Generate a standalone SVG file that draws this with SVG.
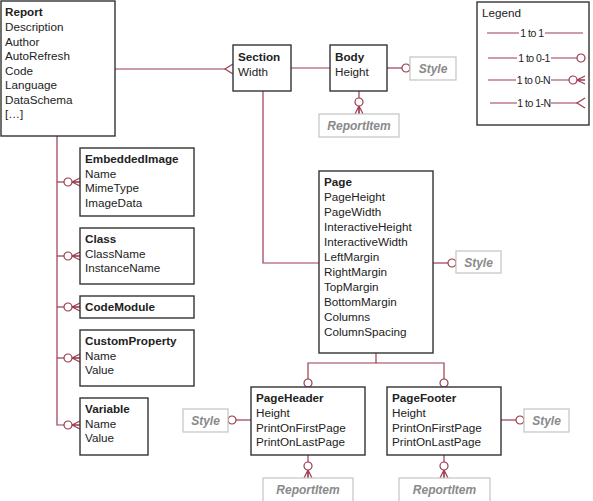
<svg xmlns="http://www.w3.org/2000/svg" width="593" height="501" viewBox="0 0 593 501">
  <style>
    .bg { fill: #ffffff; }
    .box { fill: #ffffff; stroke: #333333; stroke-width: 1.4; }
    .ref { fill: #ffffff; stroke: #c4c4c4; stroke-width: 1.2; }
    text { font-family: "Liberation Sans", Arial, sans-serif; font-size: 11.7px; fill: #222222; }
    .title { font-weight: bold; }
    .reft { font-weight: bold; font-style: italic; fill: #8a8a8a; font-size: 12px; text-anchor: middle; }
    .conn { fill: none; stroke: #9c3b4f; stroke-width: 1.2; }
    .mk { fill: #ffffff; stroke: #9c3b4f; stroke-width: 1.2; }
    .lg { font-size: 10.5px; letter-spacing: -0.5px; text-anchor: middle; }
  </style>
  <defs>
    <!-- zero or one: a small ring touching the box -->
    <marker id="zo" markerUnits="userSpaceOnUse" viewBox="-12 -6 14 12" refX="0" refY="0" markerWidth="14" markerHeight="12" orient="auto" overflow="visible">
      <circle class="mk" cx="-4" cy="0" r="4"/>
    </marker>
    <!-- zero or many: ring plus crow's foot -->
    <marker id="om" markerUnits="userSpaceOnUse" viewBox="-18 -6 20 12" refX="0" refY="0" markerWidth="20" markerHeight="12" orient="auto" overflow="visible">
      <path class="mk" d="M-8,0 L0,-4 M-8,0 L0,0 M-8,0 L0,4"/>
      <circle class="mk" cx="-12" cy="0" r="4"/>
    </marker>
    <!-- one or many: crow's foot only -->
    <marker id="mn" markerUnits="userSpaceOnUse" viewBox="-10 -6 12 12" refX="0" refY="0" markerWidth="12" markerHeight="12" orient="auto" overflow="visible">
      <path class="mk" d="M0,-5 L-8,0 L0,5"/>
    </marker>
  </defs>

  <rect class="bg" x="0" y="0" width="593" height="501"/>

  <g id="connectors">
    <path class="conn" d="M115,69 H233" marker-end="url(#mn)"/>
    <path class="conn" d="M291,68 H330"/>
    <path class="conn" d="M387,68 H410" marker-end="url(#zo)"/>
    <path class="conn" d="M359,91 V114" marker-end="url(#om)"/>
    <path class="conn" d="M263,91 V263 H319"/>
    <path class="conn" d="M433,263 H456" marker-end="url(#zo)"/>
    <path class="conn" d="M376,353 V363"/>
    <path class="conn" d="M376,363 H308 V387" marker-end="url(#zo)"/>
    <path class="conn" d="M376,363 H444 V387" marker-end="url(#zo)"/>
    <path class="conn" d="M251,420 H228" marker-end="url(#zo)"/>
    <path class="conn" d="M308,455 V478" marker-end="url(#om)"/>
    <path class="conn" d="M501,420 H524" marker-end="url(#zo)"/>
    <path class="conn" d="M444,455 V478" marker-end="url(#om)"/>
    <path class="conn" d="M57,136 V425 H80" marker-end="url(#om)"/>
    <path class="conn" d="M57,182 H80" marker-end="url(#om)"/>
    <path class="conn" d="M57,256 H80" marker-end="url(#om)"/>
    <path class="conn" d="M57,307 H80" marker-end="url(#om)"/>
    <path class="conn" d="M57,358 H80" marker-end="url(#om)"/>
  </g>

  <g id="report">
    <rect class="box" x="1" y="1" width="114" height="135"/>
    <text class="title" x="5" y="16">Report</text>
    <text x="5" y="31">Description</text>
    <text x="5" y="46">Author</text>
    <text x="5" y="60">AutoRefresh</text>
    <text x="5" y="75">Code</text>
    <text x="5" y="89">Language</text>
    <text x="5" y="104">DataSchema</text>
    <text x="5" y="118">[…]</text>
  </g>

  <g id="section">
    <rect class="box" x="233" y="45" width="58" height="46"/>
    <text class="title" x="238" y="61">Section</text>
    <text x="238" y="76">Width</text>
  </g>

  <g id="body">
    <rect class="box" x="330" y="45" width="57" height="46"/>
    <text class="title" x="335" y="61">Body</text>
    <text x="335" y="76">Height</text>
  </g>

  <g id="body-style">
    <rect class="ref" x="410" y="57" width="46" height="23"/>
    <text class="reft" x="433" y="73">Style</text>
  </g>

  <g id="body-reportitem">
    <rect class="ref" x="319" y="114" width="80" height="23"/>
    <text class="reft" x="359" y="130">ReportItem</text>
  </g>

  <g id="legend">
    <rect class="box" x="477" y="2" width="112" height="123"/>
    <text x="482" y="17">Legend</text>
    <path class="conn" d="M487,33 H519 M545,33 H583"/>
    <text class="lg" x="532" y="37">1 to 1</text>
    <path class="conn" d="M488,58 H517 M551,58 H585" marker-end="url(#zo)"/>
    <text class="lg" x="534" y="62">1 to 0-1</text>
    <path class="conn" d="M488,80 H516 M551,80 H585" marker-end="url(#om)"/>
    <text class="lg" x="533.5" y="84">1 to 0-N</text>
    <path class="conn" d="M490,103 H517 M551,103 H585" marker-end="url(#mn)"/>
    <text class="lg" x="534" y="107">1 to 1-N</text>
  </g>

  <g id="embedded-image">
    <rect class="box" x="80" y="148" width="114" height="68"/>
    <text class="title" x="85" y="163">EmbeddedImage</text>
    <text x="85" y="178">Name</text>
    <text x="85" y="192">MimeType</text>
    <text x="85" y="207">ImageData</text>
  </g>

  <g id="class">
    <rect class="box" x="80" y="228" width="114" height="56"/>
    <text class="title" x="85" y="243">Class</text>
    <text x="85" y="258">ClassName</text>
    <text x="85" y="272">InstanceName</text>
  </g>

  <g id="code-module">
    <rect class="box" x="80" y="296" width="114" height="22"/>
    <text class="title" x="85" y="311">CodeModule</text>
  </g>

  <g id="custom-property">
    <rect class="box" x="80" y="330" width="114" height="56"/>
    <text class="title" x="85" y="345">CustomProperty</text>
    <text x="85" y="360">Name</text>
    <text x="85" y="374">Value</text>
  </g>

  <g id="variable">
    <rect class="box" x="80" y="398" width="68" height="57"/>
    <text class="title" x="85" y="413">Variable</text>
    <text x="85" y="428">Name</text>
    <text x="85" y="442">Value</text>
  </g>

  <g id="page">
    <rect class="box" x="319" y="171" width="114" height="182"/>
    <text class="title" x="324" y="186">Page</text>
    <text x="324" y="201">PageHeight</text>
    <text x="324" y="216">PageWidth</text>
    <text x="324" y="231">InteractiveHeight</text>
    <text x="324" y="246">InteractiveWidth</text>
    <text x="324" y="261">LeftMargin</text>
    <text x="324" y="276">RightMargin</text>
    <text x="324" y="291">TopMargin</text>
    <text x="324" y="306">BottomMargin</text>
    <text x="324" y="321">Columns</text>
    <text x="324" y="336">ColumnSpacing</text>
  </g>

  <g id="page-style">
    <rect class="ref" x="456" y="251" width="45" height="22"/>
    <text class="reft" x="478.5" y="267">Style</text>
  </g>

  <g id="page-header">
    <rect class="box" x="251" y="387" width="114" height="68"/>
    <text class="title" x="256" y="402">PageHeader</text>
    <text x="256" y="417">Height</text>
    <text x="256" y="432">PrintOnFirstPage</text>
    <text x="256" y="446">PrintOnLastPage</text>
  </g>

  <g id="header-style">
    <rect class="ref" x="183" y="409" width="45" height="23"/>
    <text class="reft" x="205.5" y="425">Style</text>
  </g>

  <g id="header-reportitem">
    <rect class="ref" x="263" y="478" width="90" height="30"/>
    <text class="reft" x="308" y="494">ReportItem</text>
  </g>

  <g id="page-footer">
    <rect class="box" x="387" y="387" width="114" height="68"/>
    <text class="title" x="392" y="402">PageFooter</text>
    <text x="392" y="417">Height</text>
    <text x="392" y="432">PrintOnFirstPage</text>
    <text x="392" y="446">PrintOnLastPage</text>
  </g>

  <g id="footer-style">
    <rect class="ref" x="524" y="409" width="45" height="23"/>
    <text class="reft" x="546.5" y="425">Style</text>
  </g>

  <g id="footer-reportitem">
    <rect class="ref" x="399" y="478" width="91" height="30"/>
    <text class="reft" x="444.5" y="494">ReportItem</text>
  </g>
</svg>
